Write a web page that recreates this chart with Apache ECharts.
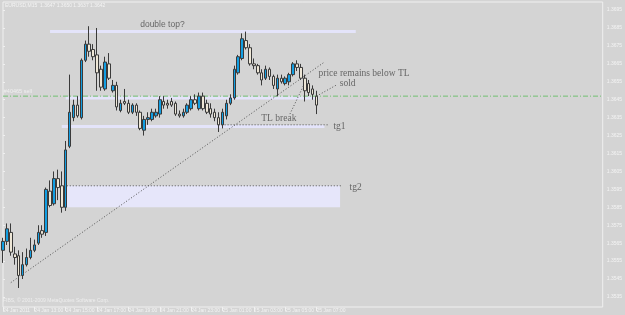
<!DOCTYPE html>
<html>
<head>
<meta charset="utf-8">
<script src="https://cdn.jsdelivr.net/npm/echarts@6/dist/echarts.min.js"></script>
<style>
  html, body { margin: 0; padding: 0; background: #d4d4d4; }
  #chart { width: 625px; height: 315px; }
</style>
</head>
<body>
<div id="chart"></div>
<script>
// EURUSD M15, 24 Jan 11:00 .. 25 Jan 07:00 (one bar per 15 min)
const timeLabels = ['24 Jan 2011', '24 Jan 13:00', '24 Jan 15:00', '24 Jan 17:00', '24 Jan 19:00',
  '24 Jan 21:00', '24 Jan 23:00', '25 Jan 01:00', '25 Jan 03:00', '25 Jan 05:00', '25 Jan 07:00'];
const labelStep = 8; // bars between time labels

const opens = [
  1.3561, 1.3566, 1.3571, 1.3559, 1.3558, 1.3547, 1.3553, 1.3557, 1.3561, 1.3565,
  1.3572, 1.3571, 1.3594, 1.3587, 1.3601, 1.3597, 1.3585, 1.3619, 1.3635, 1.3642,
  1.3635, 1.3667, 1.3676, 1.3673, 1.3670, 1.3662, 1.3651, 1.3665, 1.3650, 1.3653,
  1.3639, 1.3644, 1.3643, 1.3638, 1.3642, 1.3638, 1.3628, 1.3634, 1.3634, 1.3636,
  1.3637, 1.3644, 1.3643, 1.3644, 1.3643, 1.3637, 1.3636, 1.3638, 1.3640, 1.3645,
  1.3640, 1.3647, 1.3643, 1.3640, 1.3638, 1.3635, 1.3631, 1.3636, 1.3643, 1.3646,
  1.3660, 1.3668, 1.3678, 1.3674, 1.3665, 1.3664, 1.3660, 1.3657, 1.3662, 1.3658,
  1.3651, 1.3657, 1.3654, 1.3655, 1.3659, 1.3665, 1.3663, 1.3657, 1.3654, 1.3651,
  1.3647];
const highs = [
  1.3568, 1.3576, 1.3576, 1.3563, 1.3561, 1.3560, 1.3562, 1.3568, 1.3567, 1.3575,
  1.3575, 1.3596, 1.3600, 1.3605, 1.3606, 1.3605, 1.3622, 1.3659, 1.3645, 1.3647,
  1.3668, 1.3678, 1.3686, 1.3676, 1.3685, 1.3664, 1.3669, 1.3671, 1.3656, 1.3655,
  1.3645, 1.3651, 1.3645, 1.3643, 1.3643, 1.3639, 1.3636, 1.3638, 1.3640, 1.3640,
  1.3647, 1.3647, 1.3645, 1.3646, 1.3644, 1.3639, 1.3640, 1.3643, 1.3647, 1.3648,
  1.3649, 1.3649, 1.3645, 1.3643, 1.3640, 1.3638, 1.3640, 1.3645, 1.3648, 1.3664,
  1.3670, 1.3682, 1.3683, 1.3676, 1.3668, 1.3665, 1.3662, 1.3664, 1.3663, 1.3659,
  1.3659, 1.3659, 1.3658, 1.3660, 1.3666, 1.3667, 1.3665, 1.3659, 1.3656, 1.3653,
  1.3650];
const lows = [
  1.3554, 1.3564, 1.3558, 1.3553, 1.3540, 1.3545, 1.3552, 1.3556, 1.3560, 1.3564,
  1.3568, 1.3569, 1.3585, 1.3586, 1.3589, 1.3582, 1.3583, 1.3618, 1.3633, 1.3635,
  1.3634, 1.3666, 1.3669, 1.3667, 1.3650, 1.3650, 1.3650, 1.3656, 1.3649, 1.3639,
  1.3638, 1.3642, 1.3637, 1.3637, 1.3636, 1.3628, 1.3625, 1.3631, 1.3633, 1.3635,
  1.3635, 1.3640, 1.3640, 1.3641, 1.3636, 1.3635, 1.3635, 1.3637, 1.3639, 1.3642,
  1.3639, 1.3639, 1.3637, 1.3635, 1.3633, 1.3627, 1.3629, 1.3634, 1.3642, 1.3645,
  1.3659, 1.3667, 1.3673, 1.3664, 1.3662, 1.3659, 1.3653, 1.3656, 1.3656, 1.3651,
  1.3647, 1.3654, 1.3653, 1.3653, 1.3658, 1.3661, 1.3656, 1.3644, 1.3647, 1.3645,
  1.3637];
const closes = [
  1.3566, 1.3573, 1.3560, 1.3557, 1.3547, 1.3553, 1.3557, 1.3561, 1.3564, 1.3571,
  1.3570, 1.3595, 1.3586, 1.3601, 1.3596, 1.3585, 1.3617, 1.3638, 1.3642, 1.3636,
  1.3667, 1.3676, 1.3672, 1.3669, 1.3660, 1.3652, 1.3666, 1.3657, 1.3653, 1.3641,
  1.3643, 1.3643, 1.3638, 1.3642, 1.3638, 1.3629, 1.3634, 1.3635, 1.3638, 1.3638,
  1.3645, 1.3642, 1.3642, 1.3642, 1.3637, 1.3636, 1.3638, 1.3642, 1.3645, 1.3643,
  1.3647, 1.3640, 1.3638, 1.3637, 1.3635, 1.3631, 1.3638, 1.3643, 1.3646, 1.3662,
  1.3669, 1.3679, 1.3674, 1.3665, 1.3664, 1.3660, 1.3656, 1.3662, 1.3658, 1.3653,
  1.3657, 1.3655, 1.3657, 1.3659, 1.3665, 1.3663, 1.3657, 1.3650, 1.3649, 1.3648,
  1.3642];

const priceTicks = [1.3535, 1.3545, 1.3555, 1.3565, 1.3575, 1.3585, 1.3595, 1.3605, 1.3615,
  1.3625, 1.3635, 1.3645, 1.3655, 1.3665, 1.3675, 1.3685, 1.3695];
const lastPrice = 1.3642;
const sellPrice = 1.3647;

// drawn objects, in [bar index, price]
const trendLine = [[2, 1.3543], [82, 1.3666]];
const breakPointer = [[73.2, 1.3637], [76.7, 1.3653]];
const soldPointer = [[80, 1.3647], [84.9, 1.3653]];
const doubleTop = [[12, 1.3683], [90, 1.3683]];
const supportBand = [[16, 1.3646], [80.5, 1.3646]];
const tg1Band = [[15, 1.3630], [82, 1.3630]];
const tg1Dots = [[55, 1.3631], [83, 1.3631]];
const tg2Box = [[15.5, 1.3597], [86, 1.3585]];
const tg2Dots = [[15.5, 1.3597], [86.4, 1.3597]];

const notes = ['double top?', 'price remains below TL', 'sold', 'TL break', 'tg1', 'tg2'];
const noteBars = [35, 80.5, 85.9, 65.9, 84.3, 88.4];
const notePrices = [1.3687, 1.36599, 1.3654, 1.36348, 1.3630, 1.35963];

const candleData = opens.map((o, i) => [i, o, closes[i], lows[i], highs[i]]);

const chart = echarts.init(document.getElementById('chart'));

function band(data) {
  return {
    type: 'line', data: data, symbol: 'none', silent: true, z: 1,
    lineStyle: { color: '#e4e4fa', width: 3 }
  };
}
function dots(data, extra) {
  return Object.assign({
    type: 'line', data: data, symbol: 'none', silent: true, z: 5,
    lineStyle: { color: '#505050', width: 1, type: [1, 2] }
  }, extra || {});
}

chart.setOption({
  animation: false,
  backgroundColor: '#d4d4d4',
  grid: { left: 2, top: 2, right: 19, bottom: 8, show: true, borderColor: '#f0f0f0', borderWidth: 1 },
  xAxis: {
    type: 'value', min: 0, max: 153,
    axisLine: { show: false },
    splitLine: { show: false },
    axisTick: { show: true, length: 4, lineStyle: { color: '#f0f0f0' },
      customValues: timeLabels.map((t, k) => k * labelStep) },
    axisLabel: {
      customValues: timeLabels.map((t, k) => k * labelStep),
      formatter: v => timeLabels[Math.round(v / labelStep)] || '',
      align: 'left', margin: 1, color: '#f4f4f4', fontSize: 5, fontFamily: 'Liberation Sans'
    }
  },
  yAxis: {
    type: 'value', position: 'right', min: 1.35294, max: 1.36995, scale: true,
    axisLine: { show: false },
    splitLine: { show: false },
    axisTick: { show: true, length: 2, lineStyle: { color: '#f0f0f0' }, customValues: priceTicks },
    axisLabel: {
      customValues: priceTicks, formatter: v => v.toFixed(4),
      margin: 4, color: '#f4f4f4', fontSize: 5, fontFamily: 'Liberation Sans'
    }
  },
  graphic: [
    { type: 'text', left: 5, top: 3, silent: true,
      style: { text: 'EURUSD,M15  1.3647 1.3650 1.3637 1.3642', fill: '#f4f4f4', font: '5px Liberation Sans' } },
    { type: 'text', left: 3, top: 298, silent: true,
      style: { text: 'FIBS, © 2001-2009 MetaQuotes Software Corp.', fill: '#eeeeee', font: '5px Liberation Sans' } }
  ],
  series: [
    band(doubleTop),
    band(supportBand),
    band(tg1Band),
    dots(tg2Dots, {
      markArea: { silent: true, itemStyle: { color: '#e6e6fa' },
        data: [[{ coord: tg2Box[0] }, { coord: tg2Box[1] }]] }
    }),
    {
      type: 'line', data: [[0, sellPrice], [153, sellPrice]], symbol: 'none', silent: true, z: 2,
      lineStyle: { color: '#72c072', width: 1, type: [5, 2, 1, 2] }
    },
    {
      type: 'candlestick',
      data: candleData,
      encode: { x: 0, y: [1, 2, 3, 4] },
      barWidth: 3,
      z: 3,
      itemStyle: {
        color: '#129ee2', color0: '#eee7d7',
        borderColor: '#3a3a3a', borderColor0: '#3a3a3a', borderWidth: 1
      },
      markLine: {
        silent: true, symbol: 'none',
        lineStyle: { opacity: 0 },
        label: { position: 'end', distance: 3, formatter: lastPrice.toFixed(4),
          backgroundColor: '#ffffff', color: '#9a9a9a', fontSize: 5, padding: [1, 2],
          fontFamily: 'Liberation Sans' },
        data: [{ yAxis: lastPrice }]
      }
    },
    dots(trendLine),
    dots(breakPointer),
    dots(soldPointer),
    dots(tg1Dots),
    {
      type: 'scatter', symbolSize: 0, silent: true, z: 6,
      data: notes.map((t, k) => ({
        name: t, value: [noteBars[k], notePrices[k]],
        label: {
          fontFamily: k === 0 ? 'Liberation Sans' : 'Liberation Serif',
          fontSize: k === 0 ? 8.5 : 9.5
        }
      })),
      label: { show: true, position: 'right', distance: 0, formatter: '{b}', color: '#4a4a4a' }
    },
    {
      type: 'scatter', symbolSize: 0, silent: true, z: 6,
      data: [{ name: '#40465 sell', value: [0.2, 1.36495] }],
      label: { show: true, position: 'right', distance: 0, formatter: '{b}', color: '#f6f6f6',
        fontSize: 5.5, fontFamily: 'Liberation Sans' }
    }
  ]
});
</script>
</body>
</html>
